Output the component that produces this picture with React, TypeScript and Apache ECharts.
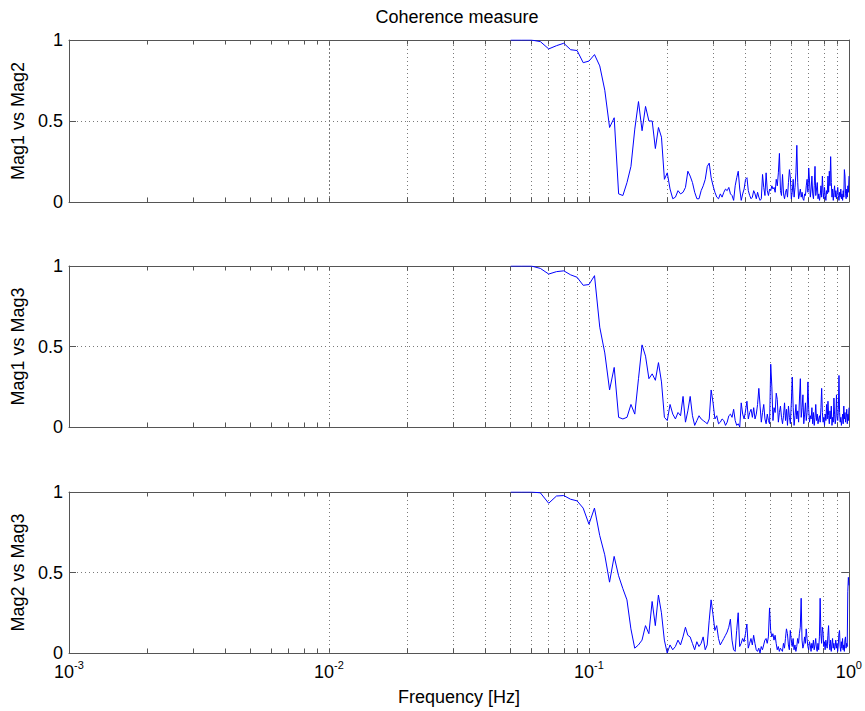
import React, { useEffect, useRef } from "react";
import * as echarts from "echarts";

const TITLE = "Coherence measure";
const X_NAME = "Frequency [Hz]";
const PANEL_NAMES = ["Mag1 vs Mag2", "Mag1 vs Mag3", "Mag2 vs Mag3"];
const X_MIN = 0.001;
const X_MAX = 1;
const Y_MIN = 0;
const Y_MAX = 1;
const Y_INTERVAL = 0.5;
const MINOR_GRID = [
  0.002, 0.003, 0.004, 0.005, 0.006, 0.007, 0.008, 0.009,
  0.02, 0.03, 0.04, 0.05, 0.06, 0.07, 0.08, 0.09,
  0.2, 0.3, 0.4, 0.5, 0.6, 0.7, 0.8, 0.9,
];

// frequency bins: FREQ_START + k * FREQ_STEP (FFT bin grid)
const FREQ_START = 0.05;
const FREQ_STEP = 0.005;

const MAG1_MAG2 = [
  1.00, 1.00, 1.00, 0.99, 0.945, 0.965, 0.98, 0.94, 0.935, 0.86,
  0.87, 0.91, 0.84, 0.69, 0.46, 0.52, 0.05, 0.04, 0.12, 0.22,
  0.45, 0.62, 0.44, 0.59, 0.50, 0.50, 0.33, 0.46, 0.40, 0.14,
  0.18, 0.08, 0.02, 0.03, 0.07, 0.05, 0.06, 0.09, 0.19, 0.16,
  0.12, 0.06, 0.02, 0.02, 0.07, 0.10, 0.14, 0.22, 0.24, 0.15,
  0.10, 0.06, 0.03, 0.02, 0.05, 0.03, 0.06, 0.08, 0.07, 0.09,
  0.05, 0.04, 0.01, 0.10, 0.15, 0.19, 0.08, 0.01, 0.05, 0.08,
  0.14, 0.15, 0.07, 0.04, 0.02, 0.03, 0.07, 0.05, 0.02, 0.06,
  0.03, 0.01, 0.02, 0.17, 0.09, 0.04, 0.18, 0.07, 0.04, 0.08,
  0.07, 0.10, 0.08, 0.09, 0.06, 0.14, 0.10, 0.18, 0.30, 0.07,
  0.04, 0.17, 0.05, 0.02, 0.06, 0.08, 0.03, 0.12, 0.20, 0.15,
  0.02, 0.06, 0.14, 0.03, 0.09, 0.18, 0.35, 0.12, 0.02, 0.05,
  0.08, 0.03, 0.06, 0.02, 0.01, 0.05, 0.04, 0.10, 0.14, 0.06,
  0.21, 0.13, 0.03, 0.08, 0.16, 0.05, 0.02, 0.10, 0.22, 0.04,
  0.08, 0.12, 0.02, 0.05, 0.01, 0.04, 0.10, 0.03, 0.16, 0.06,
  0.02, 0.09, 0.04, 0.01, 0.07, 0.05, 0.16, 0.06, 0.19, 0.10,
  0.28, 0.12, 0.03, 0.08, 0.01, 0.06, 0.10, 0.03, 0.07, 0.02,
  0.05, 0.09, 0.04, 0.01, 0.06, 0.03, 0.08, 0.02, 0.05, 0.01,
  0.07, 0.03, 0.20, 0.16, 0.05, 0.02, 0.08, 0.03, 0.10, 0.06,
  0.16,
];

const MAG1_MAG3 = [
  1.00, 1.00, 1.00, 0.985, 0.95, 0.965, 0.97, 0.945, 0.93, 0.88,
  0.885, 0.94, 0.62, 0.46, 0.23, 0.37, 0.06, 0.05, 0.06, 0.14,
  0.08, 0.30, 0.51, 0.44, 0.30, 0.33, 0.29, 0.40, 0.28, 0.06,
  0.04, 0.14, 0.08, 0.05, 0.09, 0.07, 0.19, 0.03, 0.10, 0.19,
  0.07, 0.01, 0.04, 0.07, 0.05, 0.04, 0.03, 0.02, 0.05, 0.23,
  0.15, 0.05, 0.07, 0.02, 0.03, 0.05, 0.04, 0.01, 0.03, 0.07,
  0.08, 0.06, 0.11, 0.04, 0.01, 0.02, 0.00, 0.15, 0.08, 0.05,
  0.10, 0.16, 0.05, 0.09, 0.11, 0.06, 0.12, 0.05, 0.08, 0.14,
  0.24, 0.13, 0.03, 0.09, 0.14, 0.05, 0.02, 0.08, 0.04, 0.02,
  0.39, 0.25, 0.04, 0.12, 0.09, 0.21, 0.17, 0.03, 0.09, 0.13,
  0.06, 0.02, 0.07, 0.15, 0.04, 0.11, 0.01, 0.13, 0.06, 0.02,
  0.15, 0.31, 0.12, 0.01, 0.07, 0.14, 0.05, 0.10, 0.03, 0.18,
  0.30, 0.06, 0.12, 0.20, 0.02, 0.08, 0.15, 0.04, 0.09, 0.28,
  0.11, 0.03, 0.07, 0.05, 0.12, 0.02, 0.09, 0.01, 0.06, 0.14,
  0.04, 0.08, 0.02, 0.05, 0.07, 0.03, 0.12, 0.24, 0.09, 0.03,
  0.06, 0.01, 0.08, 0.04, 0.14, 0.05, 0.16, 0.07, 0.02, 0.10,
  0.05, 0.13, 0.01, 0.06, 0.03, 0.18, 0.08, 0.02, 0.05, 0.20,
  0.07, 0.04, 0.11, 0.32, 0.09, 0.03, 0.06, 0.01, 0.04, 0.08,
  0.02, 0.13, 0.05, 0.09, 0.03, 0.06, 0.11, 0.02, 0.08, 0.04,
  0.12,
];

const MAG2_MAG3 = [
  1.00, 1.00, 1.00, 0.995, 0.93, 0.975, 0.978, 0.955, 0.945, 0.90,
  0.80, 0.90, 0.73, 0.61, 0.44, 0.60, 0.48, 0.40, 0.33, 0.15,
  0.03, 0.05, 0.08, 0.17, 0.12, 0.32, 0.17, 0.36, 0.25, 0.08,
  0.00, 0.05, 0.02, 0.04, 0.08, 0.05, 0.10, 0.16, 0.11, 0.10,
  0.06, 0.02, 0.07, 0.04, 0.06, 0.10, 0.02, 0.05, 0.20, 0.33,
  0.24, 0.14, 0.17, 0.09, 0.05, 0.07, 0.09, 0.11, 0.13, 0.16,
  0.21, 0.08, 0.02, 0.01, 0.14, 0.25, 0.04, 0.06, 0.09, 0.07,
  0.12, 0.18, 0.03, 0.06, 0.09, 0.05, 0.11, 0.06, 0.02, 0.01,
  0.03, 0.00, 0.04, 0.02, 0.05, 0.08, 0.09, 0.06, 0.10, 0.28,
  0.14, 0.10, 0.12, 0.08, 0.11, 0.06, 0.02, 0.04, 0.01, 0.03,
  0.02, 0.01, 0.06, 0.03, 0.09, 0.15, 0.12, 0.05, 0.02, 0.14,
  0.08, 0.04, 0.09, 0.02, 0.05, 0.01, 0.04, 0.09, 0.06, 0.12,
  0.16, 0.34, 0.08, 0.03, 0.05, 0.10, 0.06, 0.15, 0.09, 0.04,
  0.02, 0.07, 0.05, 0.01, 0.06, 0.03, 0.08, 0.02, 0.05, 0.09,
  0.03, 0.01, 0.06, 0.02, 0.10, 0.34, 0.12, 0.06, 0.16, 0.13,
  0.04, 0.07, 0.02, 0.08, 0.05, 0.03, 0.11, 0.17, 0.06, 0.02,
  0.08, 0.01, 0.05, 0.09, 0.03, 0.06, 0.02, 0.04, 0.08, 0.03,
  0.06, 0.01, 0.05, 0.12, 0.14, 0.04, 0.01, 0.07, 0.03, 0.09,
  0.02, 0.05, 0.01, 0.08, 0.10, 0.03, 0.06, 0.04, 0.38, 0.47,
  0.42,
];

const SERIES_VALUES = [MAG1_MAG2, MAG1_MAG3, MAG2_MAG3];

const FONT = "'Liberation Sans', Arial, Helvetica, sans-serif";
const FONT_SIZE = 18;
const AXIS_COLOR = "#555555";
const GRID_COLOR = "#7a7a7a";
const LINE_COLOR = "#0000ff";
const GRID_TOPS = [40, 266, 492];
const GRID_HEIGHTS = [162, 161, 161];
const GRID_LEFT = 69;
const GRID_RIGHT = 16;
const DOT = [1, 3];
const MINOR_TICK = 0.028;

function buildOption() {
  const grid = GRID_TOPS.map((top, i) => ({
    left: GRID_LEFT,
    right: GRID_RIGHT,
    top,
    height: GRID_HEIGHTS[i],
  }));

  const bottomX = GRID_TOPS.map((_, i) => ({
    type: "log",
    logBase: 10,
    min: X_MIN,
    max: X_MAX,
    gridIndex: i,
    position: "bottom",
    name: i === 2 ? X_NAME : "",
    nameLocation: "middle",
    nameGap: 35,
    nameTextStyle: { fontSize: FONT_SIZE, fontFamily: FONT, color: "#000" },
    axisLine: { show: true, onZero: false, lineStyle: { color: AXIS_COLOR, width: 1 } },
    axisTick: { show: true, inside: true, length: 5, lineStyle: { color: AXIS_COLOR } },
    axisLabel: {
      show: i === 2,
      margin: 6,
      color: "#000",
      fontFamily: FONT,
      formatter: (v: number) => `{b|10}{s|${Math.round(Math.log10(v))}}`,
      rich: {
        b: { fontSize: FONT_SIZE, fontFamily: FONT, color: "#000", lineHeight: 22, verticalAlign: "bottom" },
        s: { fontSize: 11, fontFamily: FONT, color: "#000", lineHeight: 14, verticalAlign: "top" },
      },
    },
    splitLine: { show: true, lineStyle: { type: DOT, color: GRID_COLOR, width: 1 } },
  }));

  const topX = GRID_TOPS.map((_, i) => ({
    type: "log",
    logBase: 10,
    min: X_MIN,
    max: X_MAX,
    gridIndex: i,
    position: "top",
    axisLine: { show: true, onZero: false, lineStyle: { color: AXIS_COLOR, width: 1 } },
    axisTick: { show: true, inside: true, length: 5, lineStyle: { color: AXIS_COLOR } },
    axisLabel: { show: false },
    splitLine: { show: false },
  }));

  const leftY = GRID_TOPS.map((_, i) => ({
    type: "value",
    gridIndex: i,
    min: Y_MIN,
    max: Y_MAX,
    interval: Y_INTERVAL,
    position: "left",
    name: PANEL_NAMES[i],
    nameLocation: "middle",
    nameGap: 41,
    nameTextStyle: { fontSize: FONT_SIZE, fontFamily: FONT, color: "#000" },
    axisLine: { show: true, onZero: false, lineStyle: { color: AXIS_COLOR, width: 1 } },
    axisTick: { show: true, inside: true, length: 7, lineStyle: { color: AXIS_COLOR } },
    axisLabel: { show: true, margin: 6, fontSize: FONT_SIZE, fontFamily: FONT, color: "#000" },
    splitLine: { show: true, lineStyle: { type: DOT, color: GRID_COLOR, width: 1 } },
  }));

  const rightY = GRID_TOPS.map((_, i) => ({
    type: "value",
    gridIndex: i,
    min: Y_MIN,
    max: Y_MAX,
    interval: Y_INTERVAL,
    position: "right",
    axisLine: { show: true, onZero: false, lineStyle: { color: AXIS_COLOR, width: 1 } },
    axisTick: { show: true, inside: true, length: 7, lineStyle: { color: AXIS_COLOR } },
    axisLabel: { show: false },
    splitLine: { show: false },
  }));

  const minorMarks: any[] = [];
  MINOR_GRID.forEach((v) => {
    minorMarks.push({ xAxis: v, lineStyle: { type: DOT, color: GRID_COLOR, width: 1 } });
  });
  MINOR_GRID.forEach((v) => {
    minorMarks.push([
      { coord: [v, Y_MIN], lineStyle: { type: "solid", color: AXIS_COLOR, width: 1 } },
      { coord: [v, Y_MIN + MINOR_TICK] },
    ]);
    minorMarks.push([
      { coord: [v, Y_MAX - MINOR_TICK], lineStyle: { type: "solid", color: AXIS_COLOR, width: 1 } },
      { coord: [v, Y_MAX] },
    ]);
  });

  const gridSeries = GRID_TOPS.map((_, i) => ({
    type: "line",
    name: "grid" + i,
    xAxisIndex: i,
    yAxisIndex: i,
    data: [],
    silent: true,
    z: 1,
    markLine: {
      silent: true,
      symbol: ["none", "none"],
      label: { show: false },
      animation: false,
      data: minorMarks,
    },
  }));

  const dataSeries = SERIES_VALUES.map((vals, i) => ({
    type: "line",
    name: PANEL_NAMES[i],
    xAxisIndex: i,
    yAxisIndex: i,
    showSymbol: false,
    symbol: "none",
    z: 5,
    lineStyle: { color: LINE_COLOR, width: 1 },
    itemStyle: { color: LINE_COLOR },
    data: vals.map((v, k) => [FREQ_START + k * FREQ_STEP, v]),
  }));

  return {
    animation: false,
    backgroundColor: "#ffffff",
    textStyle: { fontFamily: FONT },
    grid,
    xAxis: [...bottomX, ...topX],
    yAxis: [...leftY, ...rightY],
    graphic: [
      {
        type: "text",
        x: 457,
        y: 17,
        style: {
          text: TITLE,
          fontSize: FONT_SIZE,
          fontFamily: FONT,
          fill: "#000",
          align: "center",
          verticalAlign: "middle",
        },
      },
    ],
    series: [...gridSeries, ...dataSeries],
  };
}

export default function App() {
  const ref = useRef<HTMLDivElement>(null);
  useEffect(() => {
    if (!ref.current) return;
    const chart = echarts.init(ref.current, undefined, { renderer: "svg" });
    chart.setOption(buildOption() as any);
    return () => chart.dispose();
  }, []);
  return (
    <div
      ref={ref}
      style={{ position: "absolute", left: 0, top: 0, width: 865, height: 711, background: "#fff" }}
    />
  );
}
